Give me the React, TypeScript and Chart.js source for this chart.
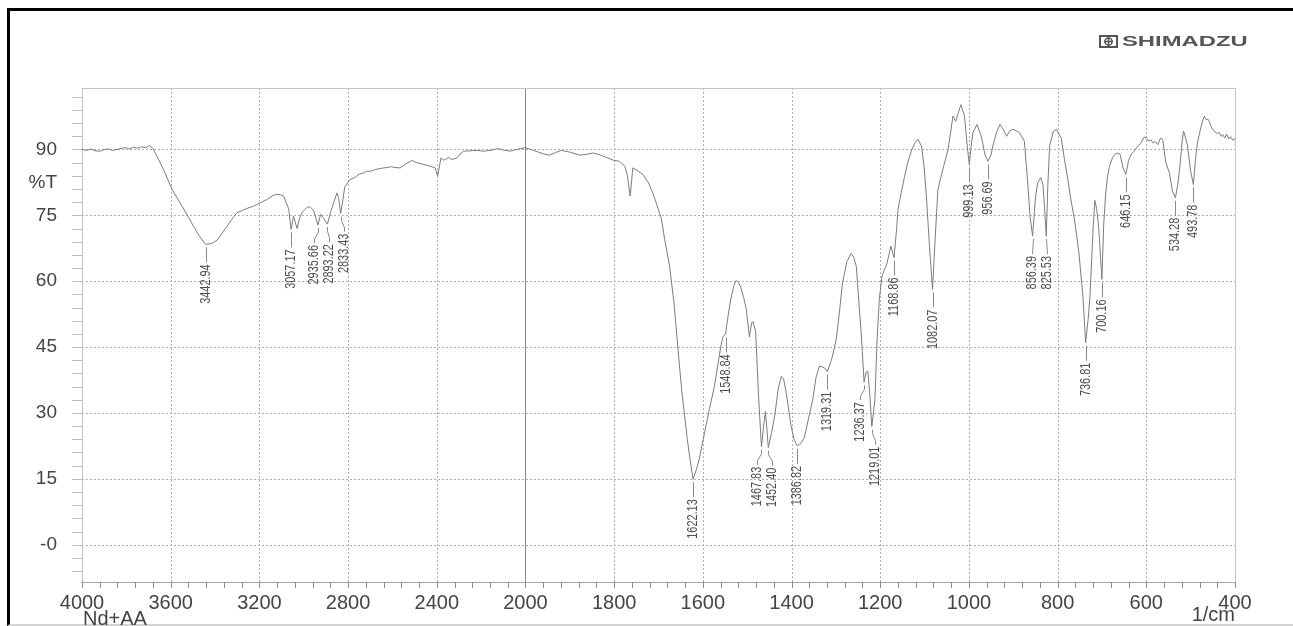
import React, { useEffect, useRef } from "react";
import { Chart, registerables } from "chart.js";

Chart.register(...registerables);

// ---- Data ----
const WAVENUMBER = [
  4000, 3980, 3960, 3940, 3917, 3900, 3880, 3860, 3842, 3820, 3800, 3785, 3769, 3750, 3730, 3712, 3695, 3680,
  3662, 3632, 3594, 3549, 3520, 3497, 3470, 3442.94, 3415, 3391, 3370, 3346, 3320, 3301, 3260, 3226, 3190, 3166,
  3140, 3121, 3105, 3091, 3076, 3068, 3057.17, 3046, 3030, 3018, 3008, 2990, 2978, 2965, 2955, 2935.66, 2924,
  2910, 2893.22, 2880, 2865, 2850, 2843, 2833.43, 2822, 2815, 2800, 2790, 2770, 2750, 2733, 2715, 2700, 2680,
  2660, 2640, 2620, 2610, 2590, 2565, 2540, 2512, 2490, 2459, 2430, 2407, 2396, 2381, 2370, 2361, 2347, 2331,
  2309, 2290, 2279, 2250, 2219, 2190, 2159, 2140, 2121, 2100, 2069, 2040, 2020, 2000,
  1988, 1976, 1960, 1946, 1932, 1919, 1900, 1878, 1862, 1848, 1836, 1825, 1803, 1788, 1776, 1770, 1764, 1760,
  1758, 1748, 1735, 1723, 1713, 1705, 1698, 1694, 1686, 1675, 1665, 1656, 1648, 1641, 1635, 1630, 1622.13,
  1615, 1608, 1600, 1585, 1574, 1566, 1559, 1554, 1548.84, 1544, 1537, 1530, 1525, 1519, 1514, 1508, 1502,
  1495, 1490, 1487, 1481, 1474, 1467.83, 1463, 1459, 1456, 1452.4, 1445, 1438, 1430, 1423, 1418, 1412, 1401,
  1394, 1386.82, 1378, 1371, 1360, 1352, 1345, 1337, 1326, 1319.31, 1310, 1299, 1292, 1285, 1275, 1266, 1260,
  1254, 1248, 1243, 1236.37, 1232, 1228, 1224, 1219.01, 1212, 1207, 1202, 1196, 1190, 1186, 1180, 1176,
  1168.86, 1163, 1160, 1153, 1145, 1138, 1130, 1122, 1115, 1107, 1101, 1096, 1089, 1082.07, 1077, 1070, 1059,
  1047, 1036, 1030, 1022, 1018, 1010, 1004, 999.13, 994, 991, 982, 972, 963, 956.69, 950, 946, 938, 930, 922,
  915, 908, 901, 894, 886, 875, 868, 862, 856.39, 850, 845, 838, 833, 829, 825.53, 822, 818, 810, 803, 797,
  792, 785, 777, 770, 762, 752, 743, 736.81, 731, 727, 720, 716, 712, 707, 700.16, 696, 692, 688, 683, 676,
  668, 659, 653, 646.15, 640, 634, 628, 619, 612, 605, 600, 595, 590, 585, 580, 574, 568, 563, 556, 548, 541,
  534.28, 529, 525, 519, 516, 511, 507, 500, 493.78, 489, 484, 477, 473, 469, 465, 461, 458, 454, 450, 445,
  440, 436, 431, 428, 423, 419, 414, 410, 405, 400,
];

const TRANSMITTANCE = [
  90.0, 89.8, 90.1, 89.7, 89.6, 90.0, 90.1, 89.8, 90.0, 90.3, 90.4, 90.1, 90.5, 90.3, 90.6, 90.4, 90.9, 90.2,
  88.5, 85.4, 80.9, 77.1, 74.6, 72.5, 70.2, 68.4, 68.6, 69.3, 70.8, 72.5, 74.4, 75.6, 76.5, 77.1, 78.0, 78.6,
  79.5, 79.8, 79.7, 79.4, 77.5, 76.5, 71.8, 74.8, 72.0, 74.5, 75.6, 76.6, 77.0, 76.6, 76.0, 72.8, 75.2,
  74.3, 73.0, 75.5, 77.9, 80.1, 79.0, 75.4, 79.0, 81.5, 82.6, 83.2, 83.6, 84.4, 84.6, 85.1, 85.0, 85.4,
  85.6, 85.8, 85.9, 86.1, 85.9, 85.8, 86.7, 87.5, 87.0, 86.6, 86.2, 85.8, 83.9, 88.1, 87.6, 87.7, 88.2, 87.7,
  88.1, 89.2, 89.6, 89.7, 89.8, 89.6, 89.8, 90.0, 90.2, 89.9, 89.6, 90.0, 90.2, 90.4,
  90.0, 89.6, 89.0, 88.7, 89.3, 89.8, 89.4, 88.7, 88.9, 89.2, 88.9, 88.5, 87.6, 87.3, 86.2, 84.0, 79.4, 83.5,
  85.8, 85.2, 84.3, 82.5, 80.1, 77.8, 75.6, 74.5, 69.5, 63.4, 55.0, 44.5, 35.5, 29.3, 24.0, 20.2, 14.9,
  17.0, 19.5, 23.6, 31.0, 36.0, 41.0, 45.5, 47.5, 47.9, 51.5, 55.9, 59.0, 60.2, 59.6, 58.5, 56.3, 53.6,
  47.3, 50.5, 50.8, 48.6, 33.1, 22.3, 27.0, 30.3, 27.0, 22.1, 25.5, 29.3, 35.5, 38.3, 37.8, 34.6, 27.0,
  23.8, 22.5, 23.2, 24.4, 29.5, 33.1, 38.0, 40.7, 40.3, 39.4, 42.0, 46.8, 53.0, 59.7, 64.5, 66.3, 65.5,
  63.4, 55.0, 48.3, 37.0, 39.3, 39.5, 35.0, 26.9, 33.0, 46.8, 56.0, 61.2, 62.8, 63.6, 66.2, 68.0,
  65.4, 72.0, 76.3, 80.0, 83.9, 87.0, 89.6, 91.5, 92.3, 90.8, 86.0, 79.4, 68.0, 58.1, 68.0, 80.9, 85.4,
  90.0, 97.6, 96.4, 99.0, 100.2, 97.6, 91.0, 86.6, 91.5, 93.8, 95.7, 93.0, 88.5, 87.3, 88.8, 90.8, 93.8, 95.7, 94.5,
  93.0, 94.2, 94.6, 94.3, 93.8, 91.9, 83.2, 74.5, 70.3, 79.0, 82.4, 83.6, 82.0, 76.0, 70.3, 82.0, 90.8, 94.0, 94.6, 93.5,
  92.7, 88.0, 83.2, 78.5, 74.1, 66.5, 56.6, 46.0, 51.5, 56.6, 72.0, 78.4, 76.5, 71.8, 60.4, 73.0, 79.4, 83.5, 86.2, 88.2,
  89.2, 88.9, 86.0, 84.3, 87.5, 88.9, 89.6, 90.8, 91.5, 92.8, 92.7, 91.9, 92.2, 91.5, 91.8, 91.1, 92.6, 92.3, 87.0, 84.7, 80.5,
  79.0, 82.0, 85.4, 92.0, 94.2, 92.5, 90.8, 85.0, 82.0, 88.0, 91.9, 95.0, 96.5, 97.6, 96.8, 96.9, 96.4, 95.2, 94.6, 94.0,
  93.6, 93.9, 93.0, 93.4, 92.6, 93.5, 92.4, 92.9, 92.1, 92.5,
];

const X_TICKS = [4000, 3600, 3200, 2800, 2400, 2000, 1800, 1600, 1400, 1200, 1000, 800, 600, 400];
const Y_TICKS = [0, 15, 30, 45, 60, 75, 90];
const Y_TICK_LABELS = ["-0", "15", "30", "45", "60", "75", "90"];

const PEAKS = [
  3442.94, 3057.17, 2935.66, 2893.22, 2833.43, 1622.13, 1548.84, 1467.83, 1452.4, 1386.82, 1319.31, 1236.37,
  1219.01, 1168.86, 1082.07, 999.13, 956.69, 856.39, 825.53, 736.81, 700.16, 646.15, 534.28, 493.78,
];

const SAMPLE_NAME = "Nd+AA";
const X_UNIT = "1/cm";
const Y_UNIT = "%T";
const BRAND = "SHIMADZU";

// The instrument's abscissa changes scale at 2000 1/cm (400 per division above, 200 below).
const toU = (wn: number) => (wn >= 2000 ? (4000 - wn) / 400 : 5 + (2000 - wn) / 200);

const FONT = '"Liberation Sans", Arial, Helvetica, sans-serif';

function valueAt(wn: number): number {
  for (let i = 0; i < WAVENUMBER.length - 1; i++) {
    const a = WAVENUMBER[i];
    const b = WAVENUMBER[i + 1];
    if (wn <= a && wn >= b) {
      const t = a === b ? 0 : (a - wn) / (a - b);
      return TRANSMITTANCE[i] + t * (TRANSMITTANCE[i + 1] - TRANSMITTANCE[i]);
    }
  }
  return TRANSMITTANCE[TRANSMITTANCE.length - 1];
}

const decorPlugin = {
  id: "irDecor",
  beforeDatasetsDraw(chart: any) {
    const { ctx, chartArea: a, scales } = chart;
    const x = scales.x;
    const y = scales.y;
    const line = (x1: number, y1: number, x2: number, y2: number) => {
      ctx.beginPath();
      ctx.moveTo(x1, y1);
      ctx.lineTo(x2, y2);
      ctx.stroke();
    };
    ctx.save();
    ctx.lineWidth = 1;
    // dotted grid
    ctx.strokeStyle = "#b0b0b0";
    ctx.setLineDash([2, 2]);
    Y_TICKS.forEach((v) => {
      const py = Math.round(y.getPixelForValue(v)) + 0.5;
      line(a.left, py, a.right, py);
    });
    X_TICKS.forEach((w) => {
      if (w === 4000 || w === 400 || w === 2000) return;
      const px = Math.round(x.getPixelForValue(toU(w))) + 0.5;
      line(px, a.top, px, a.bottom);
    });
    ctx.setLineDash([]);
    // solid division line at 2000
    ctx.strokeStyle = "#8a8a8a";
    const p2000 = Math.round(x.getPixelForValue(toU(2000))) + 0.5;
    line(p2000, a.top, p2000, a.bottom);
    // frame
    ctx.strokeStyle = "#c4c4c4";
    ctx.strokeRect(Math.round(a.left) + 0.5, Math.round(a.top) + 0.5, Math.round(a.right - a.left), Math.round(a.bottom - a.top));
    ctx.strokeStyle = "#a8a8a8";
    const pb = Math.round(a.bottom) + 0.5;
    line(a.left - 1, pb, a.right + 1, pb);
    // bottom ticks (5 sub-divisions)
    ctx.strokeStyle = "#8c8c8c";
    for (let i = 0; i <= 65; i++) {
      const px = Math.round(x.getPixelForValue(i / 5)) + 0.5;
      line(px, a.bottom, px, a.bottom + 6);
    }
    // left ticks every 3 %T
    ctx.strokeStyle = "#bdbdbd";
    for (let v = -6; v <= 102; v += 3) {
      const py = Math.round(y.getPixelForValue(v)) + 0.5;
      line(a.left - 10, py, a.left, py);
    }
    ctx.restore();
  },
  afterDatasetsDraw(chart: any) {
    const { ctx, chartArea: a, scales } = chart;
    const x = scales.x;
    const y = scales.y;
    ctx.save();

    // ---- peak labels ----
    const pts = PEAKS.map((wn) => ({
      wn,
      dx: x.getPixelForValue(toU(wn)),
      dy: y.getPixelForValue(valueAt(wn)),
      lx: 0,
    }));
    pts.sort((p, q) => p.dx - q.dx);
    const MIN = 15;
    const groups: { idx: number[]; sum: number }[] = [];
    const startOf = (g: { idx: number[]; sum: number }) => g.sum / g.idx.length - ((g.idx.length - 1) * MIN) / 2;
    pts.forEach((p, i) => {
      groups.push({ idx: [i], sum: p.dx });
      while (groups.length > 1) {
        const b = groups[groups.length - 1];
        const g = groups[groups.length - 2];
        const gEnd = startOf(g) + (g.idx.length - 1) * MIN;
        if (startOf(b) < gEnd + MIN) {
          g.idx.push(...b.idx);
          g.sum += b.sum;
          groups.pop();
        } else break;
      }
    });
    groups.forEach((g) => {
      const s = startOf(g);
      g.idx.forEach((k, j) => {
        pts[k].lx = g.idx.length === 1 ? pts[k].dx : s + j * MIN;
      });
    });

    ctx.lineWidth = 1;
    ctx.strokeStyle = "#8a8a8a";
    ctx.fillStyle = "#4e4e4e";
    ctx.font = `14px ${FONT}`;
    pts.forEach((p) => {
      const top = p.dy + 20;
      const dx = Math.round(p.dx) + 0.5;
      const lx = Math.round(p.lx) + 0.5;
      ctx.beginPath();
      ctx.moveTo(dx, p.dy + 3);
      if (Math.abs(lx - dx) > 1) {
        ctx.lineTo(dx, p.dy + 7);
        ctx.lineTo(lx, top - 6);
      }
      ctx.lineTo(lx, top - 2);
      ctx.stroke();
      ctx.save();
      ctx.translate(lx, top);
      ctx.rotate(-Math.PI / 2);
      ctx.scale(0.78, 1);
      ctx.textAlign = "right";
      ctx.textBaseline = "middle";
      ctx.fillText(p.wn.toFixed(2), 0, 0);
      ctx.restore();
    });

    // ---- axis captions ----
    ctx.fillStyle = "#444";
    ctx.font = `19px ${FONT}`;
    ctx.textAlign = "right";
    ctx.textBaseline = "middle";
    ctx.fillText(Y_UNIT, a.left - 25, y.getPixelForValue(82.5));
    ctx.font = `20px ${FONT}`;
    ctx.textAlign = "left";
    ctx.textBaseline = "alphabetic";
    ctx.fillText(SAMPLE_NAME, a.left + 1, a.bottom + 43);
    ctx.textAlign = "right";
    ctx.fillText(X_UNIT, a.right, a.bottom + 39);

    // ---- brand mark ----
    const bx = a.right - 135;
    const by = 36;
    ctx.fillStyle = "#555";
    ctx.strokeStyle = "#555";
    ctx.lineWidth = 2;
    ctx.strokeRect(bx, by, 17, 11);
    ctx.lineWidth = 1.5;
    ctx.beginPath();
    ctx.arc(bx + 8.5, by + 5.5, 3.6, 0, Math.PI * 2);
    ctx.stroke();
    ctx.beginPath();
    ctx.moveTo(bx + 4, by + 5.5);
    ctx.lineTo(bx + 13, by + 5.5);
    ctx.moveTo(bx + 8.5, by + 1);
    ctx.lineTo(bx + 8.5, by + 10);
    ctx.stroke();
    ctx.save();
    ctx.translate(bx + 22, by + 6);
    ctx.scale(1.7, 1);
    ctx.font = `bold 14px ${FONT}`;
    ctx.textAlign = "left";
    ctx.textBaseline = "middle";
    ctx.fillText(BRAND, 0, 0);
    ctx.restore();

    ctx.restore();
  },
};

export default function App() {
  const canvasRef = useRef<HTMLCanvasElement | null>(null);

  useEffect(() => {
    const canvas = canvasRef.current;
    if (!canvas) return;
    const data = WAVENUMBER.map((wn, i) => ({ x: toU(wn), y: TRANSMITTANCE[i] }));
    const chart = new Chart(canvas, {
      type: "line",
      data: {
        datasets: [
          {
            data,
            borderColor: "#7c7c7c",
            borderWidth: 1,
            pointRadius: 0,
            tension: 0,
            fill: false,
          },
        ],
      },
      options: {
        animation: false,
        responsive: false,
        events: [],
        parsing: false,
        layout: { padding: { top: 88, right: 58, left: 0, bottom: 0 } },
        plugins: { legend: { display: false }, tooltip: { enabled: false } },
        scales: {
          x: {
            type: "linear",
            min: 0,
            max: 13,
            grid: { display: false, drawTicks: false },
            border: { display: false },
            afterBuildTicks: (s: any) => {
              s.ticks = X_TICKS.map((w) => ({ value: toU(w) }));
            },
            afterFit: (s: any) => {
              s.height = 44;
            },
            ticks: {
              autoSkip: false,
              maxRotation: 0,
              padding: 9,
              color: "#444",
              font: { family: FONT, size: 20 },
              callback: (_v: any, i: number) => String(X_TICKS[i]),
            },
          },
          y: {
            type: "linear",
            min: -8.5,
            max: 104,
            grid: { display: false, drawTicks: false },
            border: { display: false },
            afterBuildTicks: (s: any) => {
              s.ticks = Y_TICKS.map((v) => ({ value: v }));
            },
            afterFit: (s: any) => {
              s.width = 82;
            },
            ticks: {
              padding: 25,
              color: "#444",
              font: { family: FONT, size: 19 },
              callback: (_v: any, i: number) => Y_TICK_LABELS[i],
            },
          },
        },
      } as any,
      plugins: [decorPlugin],
    });
    return () => chart.destroy();
  }, []);

  return (
    <div style={{ position: "absolute", left: 0, top: 0, width: 1293, height: 626, overflow: "hidden", background: "#fff" }}>
      <div
        style={{
          position: "absolute",
          left: 7,
          top: 8,
          width: 1320,
          height: 613,
          borderTop: "3px solid #000",
          borderLeft: "3px solid #000",
          borderBottom: "2px solid #d4d4d4",
        }}
      />
      <canvas
        ref={canvasRef}
        width={1293}
        height={626}
        style={{ position: "absolute", left: 0, top: 0, width: 1293, height: 626 }}
      />
    </div>
  );
}
